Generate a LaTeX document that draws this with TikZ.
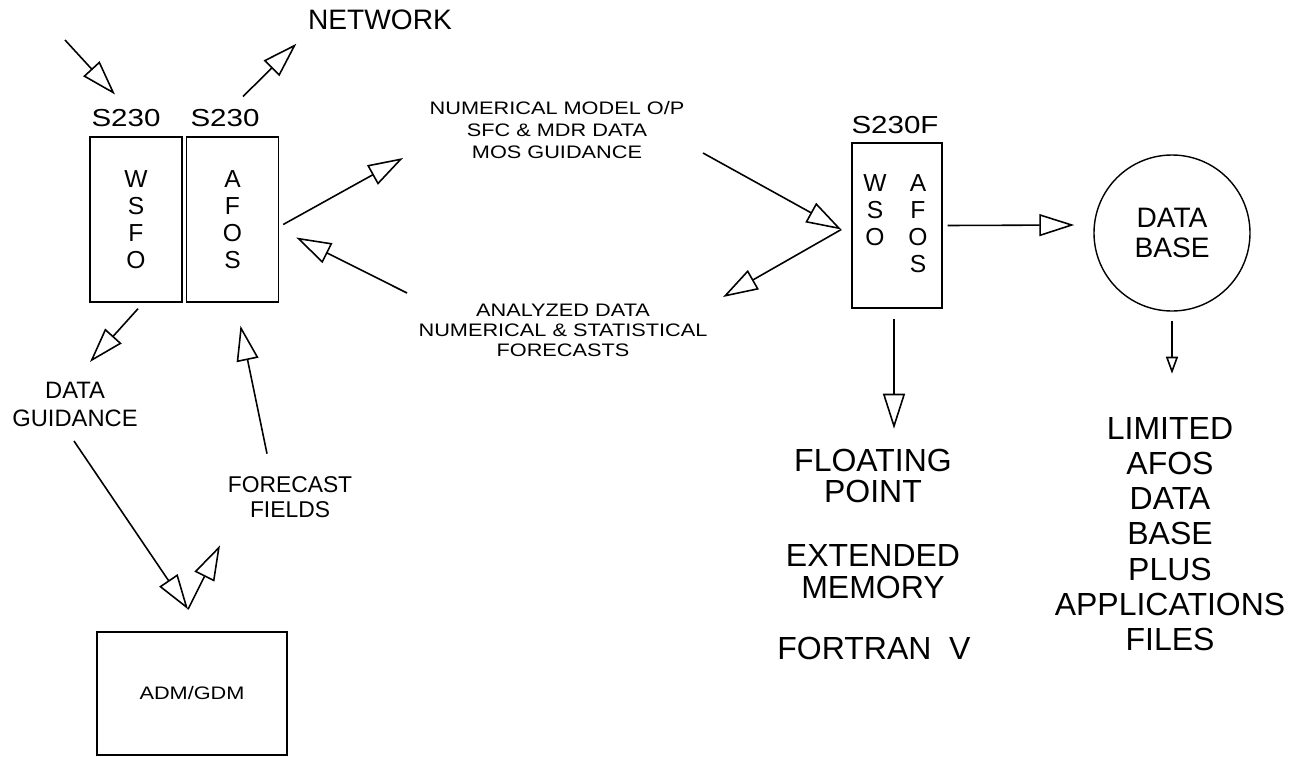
\documentclass[tikz,border=0pt]{standalone}
\usepackage{fontspec}
\setmainfont{Liberation Sans}
\newfontfamily\widefont{Liberation Sans}[FakeStretch=1.2]
\usetikzlibrary{arrows.meta,positioning,calc}

\begin{document}
\begin{tikzpicture}[x=0.2mm, y=-0.2mm, line width=0.9pt,
  >={Triangle[open, length=7mm, width=4.4mm]},
  tiny/.style={-{Triangle[open, length=3.4mm, width=2.4mm]}},
  unit/.style={draw, line width=0.8pt, minimum width=18.4mm, minimum height=33mm, inner sep=0pt, align=center,
               font=\fontsize{14}{15.3}\selectfont},
  boxtext/.style={inner sep=0pt, align=center, font=\fontsize{14}{15.3}\selectfont},
  tag/.style={inner sep=0pt, font=\widefont\fontsize{14}{16}\selectfont},
  note/.style={inner sep=0pt, align=center, font=\widefont\fontsize{10.3}{12.5}\selectfont},
  medium/.style={inner sep=0pt, align=center, font=\fontsize{13.5}{15.9}\selectfont},
  big/.style={inner sep=0pt, align=center, font=\fontsize{18.2}{18.1}\selectfont}]
\useasboundingbox (0,0) rectangle (1303,757);

% left: the two S230 machines
\node[unit] (wsfo) at (136,219.5) {W\\S\\F\\O};
\node[unit] (afos) at (232.5,219.5) {A\\F\\O\\S};
\node[tag] (t1) at (126,118) {S230};
\node[tag] (t2) at (225,118) {S230};
\node[inner sep=0pt, font=\fontsize{16}{18}\selectfont] (net) at (380,20) {NETWORK};
\coordinate (feed) at (65,40);
\draw[->] (feed) -- ($(t1.north)+(-11,-14)$);
\draw[->] ($(t2.north)+(18,-12)$) -- ($(net.south west)+(-11,13)$);

% traffic to and from the S230F
\node[note] (num) at (557,130) {NUMERICAL MODEL O/P\\SFC \& MDR DATA\\MOS GUIDANCE};
\node[note, font=\widefont\fontsize{10.3}{11.4}\selectfont] (ana) at (563,330) {ANALYZED DATA\\NUMERICAL \& STATISTICAL\\FORECASTS};
\coordinate (numtip) at (403,158);
\coordinate (numend) at (703,153);
\coordinate (anaend) at (407,293);
\coordinate (anatip) at (723,297);
\draw[->] ($(afos.east)+(4,5)$) -- (numtip);
\draw[->] (anaend) -- ($(afos.east)+(17,18)$);

% right: S230F and the data base
\node[unit, minimum width=18mm] (s230f) at (897,225.5) {};
\node[tag] (t3) at (895,125) {S230F};
\node[boxtext, anchor=north] (wso) at (875,174) {W\\S\\O};
\node[boxtext, anchor=north] (afs) at (918,174) {A\\F\\O\\S};
\coordinate (hub) at ($(s230f.west)+(-10,4)$);
\draw[->] (numend) -- (hub);
\draw[->] (hub) -- (anatip);
\node[draw, circle, line width=0.8pt, minimum size=31.2mm, inner sep=0pt, align=center,
      font=\fontsize{16}{17}\selectfont] (db) at (1172,233) {DATA\\BASE};
\draw[->] ($(s230f.east)+(5,0)$) -- ($(db.west)+(-19,-8)$);
\draw[tiny] ($(db.south)+(0,9)$) -- ++(0,53);
\draw[->] ($(s230f.south)+(-3,10)$) -- ++(0,110);

\node[big] (fp) at (873,476) {FLOATING\\POINT};
\node[big] (em) at (873,572) {EXTENDED\\MEMORY};
\node[big] (ft) at (874,648) {FORTRAN\ \ V};
\node[big, font=\fontsize{18.2}{20}\selectfont] (lim) at (1170,534)
  {LIMITED\\AFOS\\DATA\\BASE\\PLUS\\APPLICATIONS\\FILES};

% bottom left: ADM/GDM loop
\node[medium] (dg) at (75,404) {DATA\\GUIDANCE};
\node[medium, font=\fontsize{13}{14.2}\selectfont] (ff) at (290,497) {FORECAST\\FIELDS};
\node[draw, line width=0.8pt, minimum width=38mm, minimum height=24.6mm, font=\widefont\fontsize{10.3}{12}\selectfont] (adm) at (192,693.5) {ADM/GDM};
\coordinate (join) at ($(adm.north)+(-4,-22)$);
\draw[->] ($(wsfo.south)+(2,6)$) -- ($(dg.north)+(15,-19)$);
\draw[->] ($(dg.south)+(-1,14)$) -- (join);
\draw[->] (join) -- ($(ff.south west)+(-7,27)$);
\draw[->] ($(ff.north)+(-23,-22)$) -- ($(afos.south)+(8,23)$);
\end{tikzpicture}
\end{document}
